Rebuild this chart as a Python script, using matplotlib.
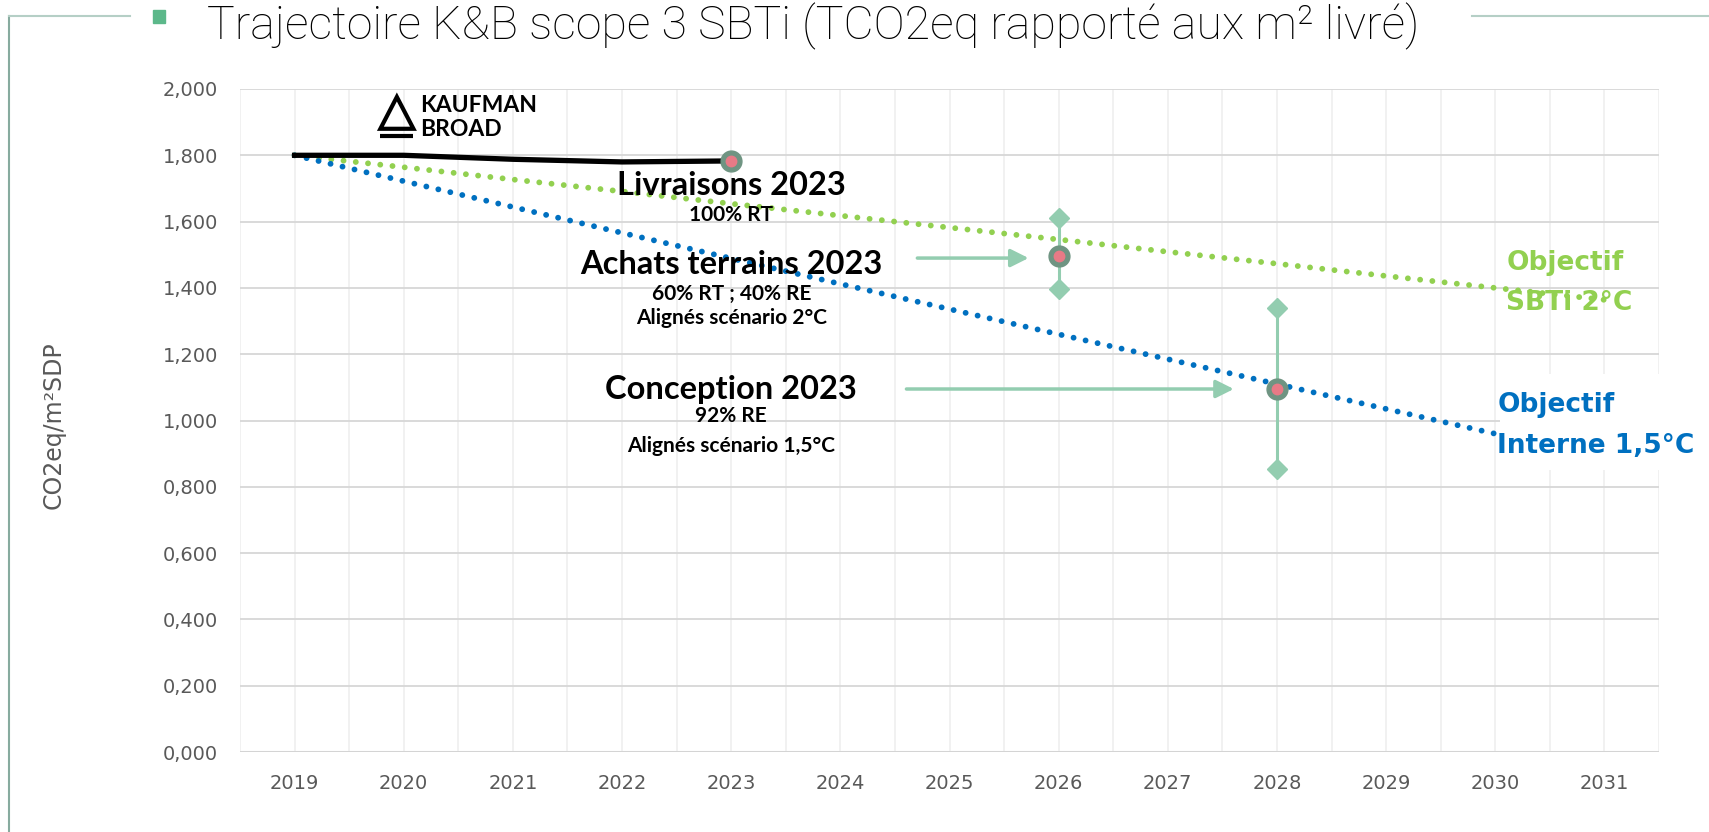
import numpy as np
import matplotlib
matplotlib.use('Agg')
import matplotlib.pyplot as plt
from matplotlib.patches import Polygon, Rectangle
from matplotlib.lines import Line2D

# données (TCO2eq / m² SDP)
years = ['2019', '2020', '2021', '2022', '2023', '2024', '2025', '2026', '2027', '2028', '2029', '2030', '2031']
kb_real = [1.800, 1.800, 1.788, 1.780, 1.783]
sbti_2c = [1.800, 1.764, 1.727, 1.691, 1.654, 1.618, 1.582, 1.546, 1.509, 1.473, 1.436, 1.400, 1.364]
interne_15c = [1.800, 1.722, 1.644, 1.566, 1.489, 1.412, 1.336, 1.260, 1.185, 1.110, 1.035, 0.960, 0.885]

# points 2023 (livraisons, achats terrains, conception)
pt_idx = [4, 7, 9]
pt_val = [1.783, 1.495, 1.095]
err_low = [0.0, 1.397, 0.855]
err_high = [0.0, 1.611, 1.338]

title = 'Trajectoire K&B scope 3 SBTi (TCO2eq rapporté aux m² livré)'
ylabel = 'CO2eq/m²SDP'

GREEN = '#92d050'
BLUE = '#0070c0'
PALE = '#93cdb0'
GREY = '#595959'

W, H = 1709, 832
fig = plt.figure(figsize=(W / 100, H / 100), dpi=100)
ax = fig.add_axes([240 / W, 1 - 752 / H, (1659 - 240) / W, (752 - 89) / H])

x = np.arange(len(years))

# grille
ax.set_xlim(-0.5, 12.5)
ax.set_ylim(0, 2.0)
ax.set_yticks(np.arange(0, 2.001, 0.2))
ax.set_yticklabels([f'{v:.3f}'.replace('.', ',') for v in np.arange(0, 2.001, 0.2)])
ax.set_xticks(x)
ax.set_xticklabels(years)
ax.set_xticks(np.arange(-0.5, 12.6, 1), minor=True)
for s in ax.spines.values():
    s.set_visible(False)
ax.grid(axis='y', which='major', color='#d9d9d9', lw=1.4, zorder=0)
ax.grid(axis='x', which='both', color='#efefef', lw=1.2, zorder=0)
ax.axhline(0, color='#d4d4d4', lw=2.2, zorder=1)
ax.tick_params(axis='both', which='both', length=0)
ax.tick_params(axis='x', pad=16, labelsize=14, labelcolor=GREY)
ax.tick_params(axis='y', pad=16, labelsize=14, labelcolor=GREY)
ax.set_ylabel(ylabel, fontsize=17, color=GREY)
ax.yaxis.set_label_coords(-0.1226, 0.493)
ax.set_axisbelow(True)

# trajectoires
ax.plot(x, sbti_2c, color=GREEN, lw=4.2, linestyle=(0, (0.01, 2.1)),
        dash_capstyle='round', zorder=3)
ax.plot(x, interne_15c, color=BLUE, lw=4.2, linestyle=(0, (0.01, 2.1)),
        dash_capstyle='round', zorder=3)
ax.plot(x[:len(kb_real)], kb_real, color='black', lw=3.8, zorder=4)

# barres d'erreur
for i, lo, hi in zip(pt_idx[1:], err_low[1:], err_high[1:]):
    ax.plot([i, i], [lo, hi], color=PALE, lw=2.2, zorder=4)
    ax.plot([i, i], [lo, hi], ls='none', marker='D', ms=10, color=PALE, zorder=4)

ax.plot(pt_idx, pt_val, ls='none', marker='o', ms=15, color='#6f9482', zorder=6)
ax.plot(pt_idx, pt_val, ls='none', marker='o', ms=7.5, color='#e87a86', zorder=7)

# flèches
arrow = dict(arrowstyle='-|>', color=PALE, lw=2.5, mutation_scale=27)
ax.annotate('', xy=(6.75, 1.49), xytext=(5.68, 1.49), arrowprops=arrow, zorder=5)
ax.annotate('', xy=(8.63, 1.095), xytext=(5.58, 1.095), arrowprops=arrow, zorder=5)

# annotations
big = dict(family='Lato', fontweight='bold', fontsize=23.5, ha='center', va='center', zorder=8)
small = dict(family='Lato', fontweight='bold', fontsize=15, ha='center', va='center', zorder=8)
ax.text(4, 1.710, 'Livraisons 2023', **big)
ax.text(4, 1.621, '100% RT', **small)
ax.text(4, 1.470, 'Achats terrains 2023', **big)
ax.text(4, 1.381, '60% RT ; 40% RE', **small)
ax.text(4, 1.308, 'Alignés scénario 2°C', **small)
ax.text(4, 1.095, 'Conception 2023', **big)
ax.text(4, 1.013, '92% RE', **small)
ax.text(4, 0.924, 'Alignés scénario 1,5°C', **small)

obj = dict(family='DejaVu Sans', fontweight='bold', fontsize=19, ha='left', va='center', zorder=8)
ax.text(11.10, 1.476, 'Objectif', color=GREEN, **obj)
ax.text(11.10, 1.354, 'SBTi 2°C', color=GREEN, **obj)
ax.add_patch(Rectangle((11.04, 0.851), 1.6, 0.29, facecolor='white', edgecolor='none',
                       zorder=7, clip_on=False))
ax.text(11.02, 1.046, 'Objectif', color=BLUE, **obj)
ax.text(11.02, 0.924, 'Interne 1,5°C', color=BLUE, **obj)

# logo Kaufman & Broad
ax.add_patch(Polygon([(0.786, 1.880), (1.089, 1.880), (0.937, 1.976)], closed=True,
                     fill=False, edgecolor='black', lw=3, joinstyle='miter', zorder=5))
ax.plot([0.786, 1.089], [1.858, 1.858], color='black', lw=3, solid_capstyle='butt', zorder=5)
ax.text(1.15, 1.950, 'KAUFMAN', family='Lato', fontweight='bold', fontsize=16.5,
        ha='left', va='center', zorder=5)
ax.text(1.15, 1.878, 'BROAD', family='Lato', fontweight='bold', fontsize=16.5,
        ha='left', va='center', zorder=5)

# habillage de la diapositive
line_c = '#87ab9f'
fig.add_artist(Line2D([9 / W, 9 / W], [0, 1 - 16 / H], color=line_c, lw=1.5))
fig.add_artist(Line2D([9 / W, 130 / W], [1 - 16 / H, 1 - 16 / H], color='#b5cfc6', lw=1.5))
fig.add_artist(Line2D([1472 / W, 1], [1 - 16 / H, 1 - 16 / H], color='#b5cfc6', lw=1.5))
fig.add_artist(Rectangle((153 / W, 1 - 23 / H), 12 / W, 13 / H, color='#5cb88a',
                         transform=fig.transFigure))
fig.text(207 / W, 1 - 39 / H, title, fontsize=33.5, fontweight='light',
         family=['Roboto', 'DejaVu Sans'], va='baseline', color='black')

fig.savefig('out.png', dpi=100)
